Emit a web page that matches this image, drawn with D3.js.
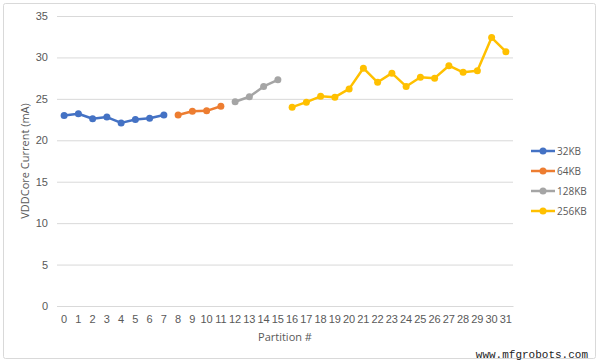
<!DOCTYPE html>
<html><head><meta charset="utf-8">
<script src="https://cdn.jsdelivr.net/npm/d3@7"></script>
<style>body{margin:0;background:#fff;}svg{display:block;font-family:"Open Sans","Liberation Sans",sans-serif;}</style>
</head><body><svg id="c" width="600" height="364"></svg>
<script>
const partitions = d3.range(0, 32).map(String);
const yTicks = [0, 5, 10, 15, 20, 25, 30, 35];
const seriesNames = ["32KB", "64KB", "128KB", "256KB"];
const seriesColors = ["#4472C4", "#ED7D31", "#A5A5A5", "#FFC000"];
const start32 = 0, start64 = 8, start128 = 12, start256 = 16;
const vals32 = [23.0, 23.2, 22.6, 22.8, 22.1, 22.5, 22.65, 23.05];
const vals64 = [23.05, 23.5, 23.55, 24.1];
const vals128 = [24.65, 25.25, 26.5, 27.3];
const vals256 = [24.0, 24.6, 25.3, 25.2, 26.2, 28.7, 27.0, 28.1, 26.5, 27.6, 27.5, 29.0, 28.2, 28.4, 32.4, 30.7];

const series = [[start32, vals32], [start64, vals64], [start128, vals128], [start256, vals256]]
  .map(([s, v], i) => ({name: seriesNames[i], color: seriesColors[i], pts: v.map((y, j) => ({x: String(s + j), y}))}));

const svg = d3.select("#c");
svg.append("rect").attr("x", 3.5).attr("y", 3.5).attr("width", 592).attr("height", 355)
  .attr("fill", "#fff").attr("stroke", "#d9d9d9").attr("rx", 2);

const m = {l: 57, r: 513, t: 16, b: 306};
const x = d3.scaleBand().domain(partitions).range([m.l, m.r]);
const y = d3.scaleLinear().domain([0, 35]).range([m.b, m.t]);

const yAxis = svg.append("g").attr("transform", `translate(${m.l},0)`)
  .call(d3.axisLeft(y).tickValues(yTicks).tickSize(-(m.r - m.l)).tickPadding(9));
yAxis.select(".domain").remove();
yAxis.selectAll("line").attr("stroke", "#d9d9d9");
yAxis.selectAll("text").attr("fill", "#595959").style("font-size", "11px");

const xAxis = svg.append("g").attr("transform", `translate(0,${m.b})`)
  .call(d3.axisBottom(x).tickSize(0).tickPadding(9));
xAxis.select(".domain").attr("stroke", "#d9d9d9");
xAxis.selectAll("text").attr("fill", "#595959").style("font-size", "11px");

const line = d3.line().x(d => x(d.x) + x.bandwidth() / 2).y(d => y(d.y));
series.forEach(s => {
  svg.append("path").datum(s.pts).attr("d", line).attr("fill", "none")
    .attr("stroke", s.color).attr("stroke-width", 2.5).attr("stroke-linejoin", "round");
  svg.selectAll(null).data(s.pts).join("circle")
    .attr("cx", d => x(d.x) + x.bandwidth() / 2).attr("cy", d => y(d.y)).attr("r", 3.5)
    .attr("fill", s.color);
});

svg.append("text").attr("transform", "translate(29,161) rotate(-90)").attr("text-anchor", "middle")
  .attr("fill", "#595959").style("font-size", "11px").text("VDDCore Current (mA)");
svg.append("text").attr("x", 285).attr("y", 341).attr("text-anchor", "middle")
  .attr("fill", "#595959").style("font-size", "11px").text("Partition #");

const leg = svg.append("g");
series.forEach((s, i) => {
  const ly = 151 + i * 20;
  leg.append("line").attr("x1", 531).attr("x2", 555).attr("y1", ly).attr("y2", ly)
    .attr("stroke", s.color).attr("stroke-width", 2.5);
  leg.append("circle").attr("cx", 543).attr("cy", ly).attr("r", 3.5).attr("fill", s.color);
  leg.append("text").attr("x", 557).attr("y", ly + 4).attr("fill", "#595959")
    .style("font-size", "10px").text(s.name);
});

svg.append("text").attr("x", 588).attr("y", 358).attr("text-anchor", "end")
  .attr("fill", "#222").style("font-family", "'Liberation Mono','DejaVu Sans Mono',monospace")
  .style("font-size", "11px").text("www.mfgrobots.com");
</script></body></html>
